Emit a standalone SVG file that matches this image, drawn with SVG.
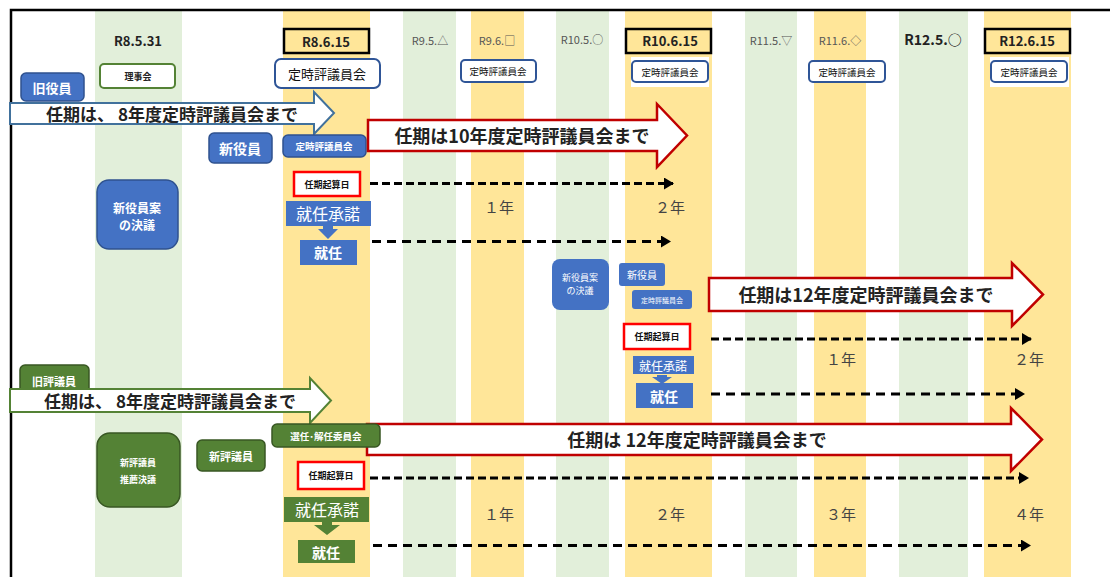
<svg xmlns="http://www.w3.org/2000/svg" width="1110" height="577" viewBox="0 0 1110 577">
<defs>
<style>
text{font-family:"Noto Sans CJK JP","Liberation Sans",sans-serif;text-anchor:middle;dominant-baseline:central}
.g{fill:#E2EFDA}.y{fill:#FFE699}
.hd{font-size:13px;font-weight:bold;fill:#222}
.hs{font-size:11px;fill:#555}
.datebox{fill:none;stroke:#000;stroke-width:2.5}
.meet{fill:#fff;stroke:#2F5597;stroke-width:2}
.blue{fill:#4472C4;stroke:#2F528F;stroke-width:1.5}
.bluef{fill:#4472C4}
.green{fill:#548235;stroke:#385723;stroke-width:1.5}
.greenf{fill:#548235}
.wt{fill:#fff;font-weight:bold}
.wn{fill:#fff}
.bt{fill:#111;font-weight:bold}
.start{fill:#fff;stroke:#FF0000;stroke-width:2.5}
.big{fill:#fff;stroke:#C00000;stroke-width:2.5}
.bigt{font-size:18px;font-weight:bold;fill:#222}
.dash{stroke:#000;stroke-width:3;stroke-dasharray:8 4;fill:none}
.dash2{stroke:#000;stroke-width:3;stroke-dasharray:9 6;fill:none}
.yr{font-size:15px;fill:#444}
</style>
<marker id="ah" markerWidth="10" markerHeight="12" refX="9" refY="6" orient="auto" markerUnits="userSpaceOnUse">
<path d="M0,0 L10,6 L0,12 Z" fill="#000"/>
</marker>
</defs>
<rect width="1110" height="577" fill="#fff"/>
<g id="columns">
<rect class="g" x="95" y="11" width="87" height="566"/>
<rect class="y" x="283" y="11" width="87" height="566"/>
<rect class="g" x="403" y="11" width="53" height="566"/>
<rect class="y" x="471" y="11" width="53" height="566"/>
<rect class="g" x="556" y="11" width="53" height="566"/>
<rect class="y" x="625" y="11" width="87" height="566"/>
<rect class="g" x="745" y="11" width="52" height="566"/>
<rect class="y" x="814" y="11" width="52" height="566"/>
<rect class="g" x="899" y="11" width="69" height="566"/>
<rect class="y" x="984" y="11" width="87" height="566"/>
</g>
<g id="frame">
<path d="M11,577 V10 H1110" fill="none" stroke="#000" stroke-width="2.5"/>
</g>
<g id="headers">
<text class="hd" x="138" y="40">R8.5.31</text>
<rect class="datebox" x="284" y="29" width="85" height="24"/>
<text class="hd" x="326" y="41">R8.6.15</text>
<text class="hs" x="430" y="40">R9.5.△</text>
<text class="hs" x="497" y="40">R9.6.□</text>
<text class="hs" x="582" y="39">R10.5.○</text>
<rect class="datebox" x="626" y="29" width="85" height="24"/>
<text class="hd" x="670" y="40">R10.6.15</text>
<text class="hs" x="771" y="40">R11.5.▽</text>
<text class="hs" x="840" y="40">R11.6.◇</text>
<text class="hd" x="933" y="39" style="font-size:14px">R12.5.○</text>
<rect class="datebox" x="985" y="29" width="85" height="24"/>
<text class="hd" x="1027" y="40">R12.6.15</text>
</g>
<g id="n-rijikai">
<rect x="100" y="64" width="75" height="24" rx="4" fill="#fff" stroke="#548235" stroke-width="2"/>
<text x="138" y="76" style="font-size:9px;font-weight:bold;fill:#222">理事会</text>
</g>
<g id="n-teiji1">
<rect class="meet" x="275" y="59" width="105" height="29" rx="6"/>
<text x="327" y="73" style="font-size:13px;fill:#111">定時評議員会</text>
</g>
<g id="n-teiji2">
<rect class="meet" x="461" y="60" width="75" height="22" rx="4"/>
<text x="498" y="71" style="font-size:9.5px;fill:#111">定時評議員会</text>
</g>
<g id="n-teiji3">
<rect x="631" y="57" width="78" height="30" fill="#fff"/>
<rect class="meet" x="632" y="61" width="76" height="21" rx="4"/>
<text x="670" y="71.5" style="font-size:9.5px;fill:#111">定時評議員会</text>
</g>
<g id="n-teiji4">
<rect class="meet" x="809" y="61" width="76" height="21" rx="4"/>
<text x="847" y="71.5" style="font-size:9.5px;fill:#111">定時評議員会</text>
</g>
<g id="n-teiji5">
<rect x="990" y="57" width="79" height="30" fill="#fff"/>
<rect class="meet" x="991" y="61" width="76" height="21" rx="4"/>
<text x="1029" y="71.5" style="font-size:9.5px;fill:#111">定時評議員会</text>
</g>
<g id="n-kyuyakuin">
<rect class="blue" x="21" y="73" width="63" height="28" rx="5"/>
<text class="wt" x="52" y="87" style="font-size:13px">旧役員</text>
</g>
<g id="arrow-old-yakuin">
<path d="M10,103 H314 V92 L334,113 L314,134 V124 H10 Z" fill="#fff" stroke="#41719C" stroke-width="2"/>
<text x="172" y="113" style="font-size:17px;font-weight:bold;fill:#222">任期は、 8年度定時評議員会まで</text>
</g>
<g id="n-shinyakuin">
<rect class="blue" x="209" y="133" width="63" height="30" rx="5"/>
<text class="wt" x="240" y="148" style="font-size:14px">新役員</text>
</g>
<g id="n-teiji-b1">
<rect class="blue" x="283" y="135" width="83" height="22" rx="5"/>
<text class="wt" x="324" y="146" style="font-size:9.5px">定時評議員会</text>
</g>
<g id="arrow-10">
<path d="M368,120 H657 V104 L687,135.5 L657,167 V151 H368 Z" class="big"/>
<text class="bigt" x="522" y="135">任期は10年度定時評議員会まで</text>
</g>
<g id="n-kettei1">
<rect class="blue" x="97" y="180" width="81" height="69" rx="12"/>
<text class="wt" x="137" y="207" style="font-size:12px">新役員案</text>
<text class="wt" x="137" y="224" style="font-size:12px">の決議</text>
</g>
<g id="n-kisan1">
<rect class="start" x="294" y="172" width="66" height="24"/>
<text class="bt" x="327" y="184" style="font-size:9px">任期起算日</text>
</g>
<g id="n-shodaku1">
<rect class="bluef" x="286" y="201" width="85" height="25"/>
<text class="wn" x="328" y="213" style="font-size:16px">就任承諾</text>
<path d="M323,226 H333 V229 H338 L328,239 L318,229 H323 Z" class="bluef"/>
</g>
<g id="n-shunin1">
<rect class="bluef" x="300" y="240" width="57" height="25"/>
<text class="wt" x="328" y="252" style="font-size:14px">就任</text>
</g>
<g id="n-kettei2">
<rect class="bluef" x="552" y="259" width="57" height="51" rx="8"/>
<text class="wn" x="580" y="277" style="font-size:9px">新役員案</text>
<text class="wn" x="580" y="290" style="font-size:9px">の決議</text>
</g>
<g id="n-shinyakuin2">
<rect class="bluef" x="619" y="263" width="46" height="23" rx="3"/>
<text class="wn" x="642" y="274" style="font-size:10px">新役員</text>
</g>
<g id="n-teiji-b2">
<rect class="bluef" x="632" y="290" width="60" height="19" rx="3"/>
<text class="wn" x="662" y="299.5" style="font-size:7px">定時評議員会</text>
</g>
<g id="arrow-12a">
<path d="M709,278 H1012 V263 L1043,294.5 L1012,326 V311 H709 Z" class="big"/>
<text class="bigt" x="866" y="294">任期は12年度定時評議員会まで</text>
</g>
<g id="n-kisan2">
<rect class="start" x="624" y="324" width="66" height="25"/>
<text class="bt" x="657" y="336.5" style="font-size:9px">任期起算日</text>
</g>
<g id="n-shodaku2">
<rect class="bluef" x="633" y="356" width="61" height="18"/>
<text class="wn" x="663" y="365" style="font-size:12px">就任承諾</text>
<path d="M657,375 V377 H652 L662,384 L672,377 H667 V375 Z" class="bluef"/>
</g>
<g id="n-shunin2">
<rect class="bluef" x="636" y="383" width="57" height="25"/>
<text class="wt" x="664" y="395.5" style="font-size:14px">就任</text>
</g>
<g id="n-kyuhyogiin">
<rect class="green" x="20" y="365" width="69" height="30" rx="5" stroke="#2F528F"/>
<text class="wt" x="54" y="381" style="font-size:11px">旧評議員</text>
</g>
<g id="arrow-old-hyogiin">
<path d="M10,389 H310 V378 L331,400.5 L310,423 V412 H10 Z" fill="#fff" stroke="#548235" stroke-width="2"/>
<text x="170" y="400" style="font-size:17px;font-weight:bold;fill:#222">任期は、 8年度定時評議員会まで</text>
</g>
<g id="arrow-12b">
<path d="M367,424 H1011 V408 L1042,439.5 L1011,471 V455 H367 Z" class="big"/>
<text class="bigt" x="697" y="439">任期は 12年度定時評議員会まで</text>
</g>
<g id="n-senin">
<rect class="green" x="272" y="424" width="108" height="23" rx="5"/>
<text class="wt" x="326" y="435.5" style="font-size:9.5px">選任･解任委員会</text>
</g>
<g id="n-suisen">
<rect class="green" x="97" y="433" width="83" height="74" rx="13" stroke="#2F528F"/>
<text class="wt" x="138" y="462" style="font-size:9px">新評議員</text>
<text class="wt" x="138" y="479" style="font-size:9px">推薦決議</text>
</g>
<g id="n-shinhyogiin">
<rect class="green" x="197" y="440" width="68" height="31" rx="5"/>
<text class="wt" x="231" y="455.5" style="font-size:11px">新評議員</text>
</g>
<g id="n-kisan3">
<rect class="start" x="298" y="462" width="66" height="27"/>
<text class="bt" x="331" y="475.5" style="font-size:9px">任期起算日</text>
</g>
<g id="n-shodaku3">
<rect class="greenf" x="284" y="497" width="85" height="25"/>
<text class="wn" x="327" y="509" style="font-size:16px">就任承諾</text>
<path d="M322,522 H332 V525 H340 L327,535 L314,525 H322 Z" class="greenf"/>
</g>
<g id="n-shunin3">
<rect class="greenf" x="298" y="540" width="57" height="23"/>
<text class="wt" x="326" y="552" style="font-size:14px">就任</text>
</g>
<g id="connectors">
<path class="dash" d="M370,183.5 H673" marker-end="url(#ah)"/>
<path class="dash2" d="M372,241.5 H670" marker-end="url(#ah)"/>
<path class="dash" d="M711,339 H1031" marker-end="url(#ah)"/>
<path class="dash2" d="M711,394 H1024" marker-end="url(#ah)"/>
<path class="dash" d="M370,478 H1028" marker-end="url(#ah)"/>
<path class="dash2" d="M373,545.5 H1030" marker-end="url(#ah)"/>
</g>
<g id="years">
<text class="yr" x="499" y="206">１年</text>
<text class="yr" x="670" y="206">２年</text>
<text class="yr" x="841" y="358">１年</text>
<text class="yr" x="1029" y="358">２年</text>
<text class="yr" x="499" y="513">１年</text>
<text class="yr" x="670" y="513">２年</text>
<text class="yr" x="841" y="513">３年</text>
<text class="yr" x="1029" y="513">４年</text>
</g>
</svg>
